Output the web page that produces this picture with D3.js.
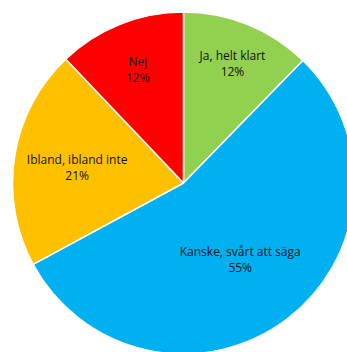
<!DOCTYPE html>
<html>
<head>
<meta charset="utf-8">
<script src="https://cdn.jsdelivr.net/npm/d3@7"></script>
<style>
  body { margin: 0; background: #fff; }
  svg { display: block; }
  text { font-family: "Open Sans", "Liberation Sans", sans-serif; font-size: 12px; fill: #111; }
</style>
</head>
<body>
<svg></svg>
<script>
// chart data
const categories = ["Ja, helt klart", "Kanske, svårt att säga", "Ibland, ibland inte", "Nej"];
const shares = [12.3, 54.8, 20.8, 12.1];
const colors = ["#92D050", "#00B0F0", "#FFC000", "#FF0000"];

const width = 347, height = 352;
const cx = 183.5, cy = 183, radius = 171;
// how far out each label sits, as a share of the radius
const labelAt = [0.76, 0.55, 0.63, 0.72];

let svg = d3.select("svg").attr("width", width).attr("height", height);
let g = svg.append("g").attr("transform", `translate(${cx},${cy})`);

let data = categories.map((c, i) => ({ name: c, value: shares[i], color: colors[i], lr: labelAt[i] }));

let pie = d3.pie().sort(null).value(d => d.value);
let arc = d3.arc().innerRadius(0).outerRadius(radius);
let arcs = pie(data);

g.selectAll("path").data(arcs).enter().append("path")
  .attr("d", arc)
  .attr("fill", d => d.data.color)
  .attr("stroke", "#fff")
  .attr("stroke-width", 1.5)
  .attr("stroke-linejoin", "round");

let lbl = g.selectAll("text.lbl").data(arcs).enter().append("text")
  .attr("class", "lbl")
  .attr("text-anchor", "middle")
  .attr("transform", d => {
    let r = radius * d.data.lr;
    let a = (d.startAngle + d.endAngle) / 2;
    return `translate(${r * Math.sin(a)},${-r * Math.cos(a)})`;
  });
lbl.append("tspan").attr("x", 0).attr("dy", "-0.2em").text(d => d.data.name);
lbl.append("tspan").attr("x", 0).attr("dy", "1.35em").text(d => Math.round(d.data.value) + "%");
</script>
</body>
</html>
